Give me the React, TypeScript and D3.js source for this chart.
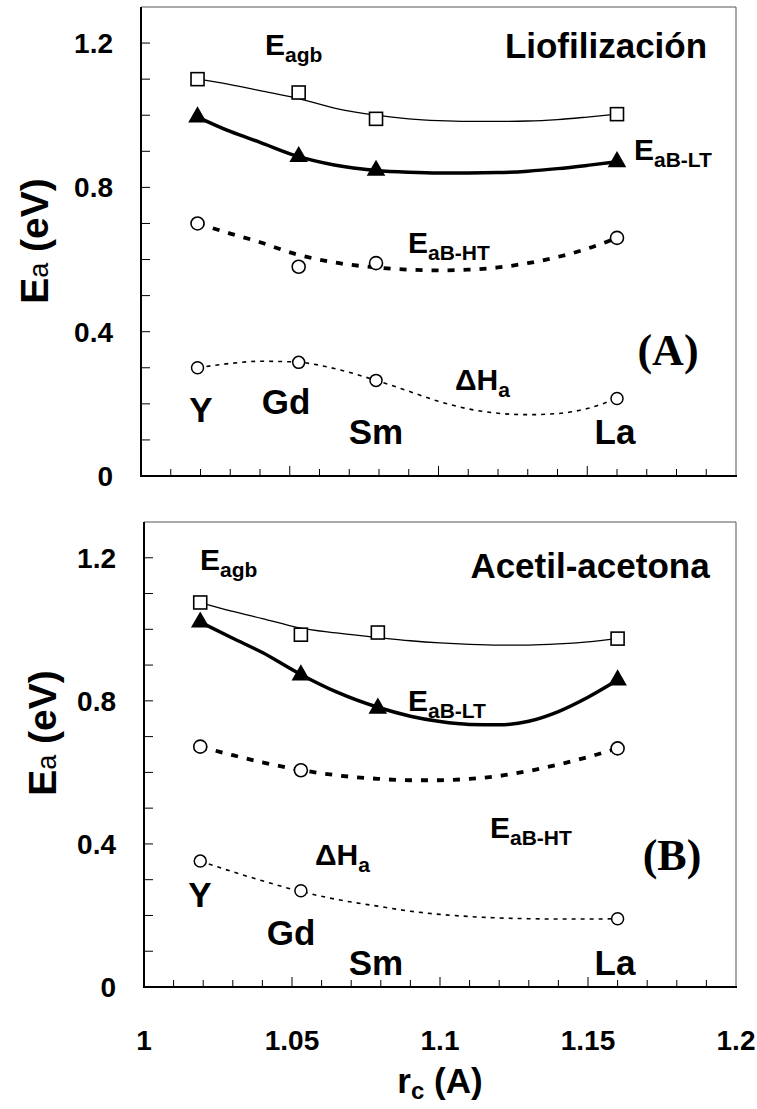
import { useEffect, useRef } from 'react';
import * as d3 from 'd3';

// ionic radius of each cation (A)
const radii = [1.019, 1.053, 1.079, 1.16];
const elements = ['Y', 'Gd', 'Sm', 'La'];

// (A) Liofilización
const aAgb = [1.1, 1.063, 0.99, 1.003];
const aLT = [0.995, 0.885, 0.847, 0.871];
const aHT = [0.7, 0.58, 0.59, 0.66];
const aDH = [0.3, 0.315, 0.265, 0.215];

// (B) Acetil-acetona (no Sm point for HT / dH)
const bAgb = [1.075, 0.985, 0.991, 0.974];
const bLT = [1.02, 0.872, 0.779, 0.858];
const bHT = [0.672, 0.606, null, 0.667];
const bDH = [0.352, 0.269, null, 0.191];

// trend curves
const fitX = [1.019, 1.03, 1.04, 1.052, 1.065, 1.079, 1.09, 1.1, 1.11, 1.12, 1.13, 1.14, 1.15, 1.16];
const aAgbFit = [1.1, 1.085, 1.068, 1.048, 1.02, 1.0, 0.99, 0.985, 0.983, 0.983, 0.984, 0.988, 0.995, 1.003];
const aLTFit = [0.995, 0.955, 0.925, 0.888, 0.862, 0.847, 0.842, 0.84, 0.84, 0.841, 0.845, 0.852, 0.861, 0.871];
const aHTFit = [0.7, 0.672, 0.648, 0.615, 0.592, 0.578, 0.572, 0.57, 0.572, 0.578, 0.59, 0.607, 0.63, 0.66];
const aDHFit = [0.3, 0.312, 0.318, 0.316, 0.298, 0.265, 0.235, 0.207, 0.186, 0.174, 0.17, 0.173, 0.187, 0.215];
const bAgbFit = [1.075, 1.05, 1.03, 1.005, 0.99, 0.977, 0.968, 0.962, 0.958, 0.956, 0.956, 0.959, 0.965, 0.974];
const bLTFit = [1.02, 0.975, 0.935, 0.878, 0.825, 0.782, 0.757, 0.742, 0.734, 0.733, 0.743, 0.77, 0.81, 0.858];
const bHTFit = [0.672, 0.648, 0.628, 0.608, 0.592, 0.582, 0.578, 0.578, 0.582, 0.59, 0.604, 0.622, 0.643, 0.667];
const bDHFit = [0.352, 0.322, 0.297, 0.269, 0.245, 0.226, 0.212, 0.203, 0.197, 0.193, 0.191, 0.19, 0.19, 0.191];

const yTicks = [0, 0.4, 0.8, 1.2];
const xTicks = [1, 1.05, 1.1, 1.15, 1.2];

const FONT = '"Liberation Sans", Arial, sans-serif';

type Label = { text: string; sub?: string; x: number; y: number; size: number; serif?: boolean; anchor?: string };

function drawPanel(svg: d3.Selection<SVGSVGElement, unknown, null, undefined>, p: {
  box: [number, number, number, number];
  agb: (number | null)[]; lt: (number | null)[]; ht: (number | null)[]; dh: (number | null)[];
  fits: number[][];
  labels: Label[];
  elemPos: [number, number][];
  ylab: [number, number];
  xlabels: boolean;
}) {
  const [x0, x1, y0, y1] = p.box;
  const x = d3.scaleLinear().domain([1, 1.2]).range([x0, x1]);
  const y = d3.scaleLinear().domain([0, 1.3]).range([y1, y0]);
  const g = svg.append('g');

  // frame: top/right grey, left/bottom black
  g.append('line').attr('x1', x0).attr('x2', x1).attr('y1', y0).attr('y2', y0).attr('stroke', '#555').attr('stroke-width', 1);
  g.append('line').attr('x1', x1).attr('x2', x1).attr('y1', y0).attr('y2', y1).attr('stroke', '#555').attr('stroke-width', 1);
  g.append('line').attr('x1', x0).attr('x2', x0).attr('y1', y0).attr('y2', y1 + 1).attr('stroke', '#000').attr('stroke-width', 2);
  g.append('line').attr('x1', x0 - 1).attr('x2', x1 + 1).attr('y1', y1).attr('y2', y1).attr('stroke', '#000').attr('stroke-width', 2);

  d3.range(0, 13).forEach(i => {
    const v = i / 10;
    g.append('line').attr('x1', x0).attr('x2', x0 + 9).attr('y1', y(v)).attr('y2', y(v)).attr('stroke', '#000').attr('stroke-width', 1);
  });
  d3.range(1, 20).forEach(i => {
    const v = 1 + i / 100;
    const major = i % 5 === 0;
    g.append('line').attr('x1', x(v)).attr('x2', x(v)).attr('y1', y1).attr('y2', y1 - (major ? 10 : 7)).attr('stroke', '#000').attr('stroke-width', 1);
  });

  yTicks.forEach(v => {
    g.append('text').attr('x', x0 - 28).attr('y', y(v) + 10).attr('text-anchor', 'end')
      .attr('font-family', FONT).attr('font-weight', 'bold').attr('font-size', 28).text(String(v));
  });
  if (p.xlabels) {
    xTicks.forEach(v => {
      g.append('text').attr('x', x(v)).attr('y', y1 + 63).attr('text-anchor', 'middle')
        .attr('font-family', FONT).attr('font-weight', 'bold').attr('font-size', 28).text(String(v));
    });
  }

  // y label
  const yl = g.append('text').attr('transform', `translate(${p.ylab[0]},${p.ylab[1]}) rotate(-90)`)
    .attr('text-anchor', 'middle').attr('font-family', FONT).attr('font-weight', 'bold').attr('font-size', 39);
  yl.append('tspan').text('E');
  yl.append('tspan').attr('font-size', 27).attr('font-weight', 'normal').text('a');
  yl.append('tspan').text(' (eV)');

  // trend curves
  const line = d3.line<number>().x((_, i) => x(fitX[i])).y(d => y(d)).curve(d3.curveMonotoneX);
  const styles = [
    { w: 1.3, dash: null },
    { w: 3.5, dash: null },
    { w: 3.8, dash: '7,9' },
    { w: 1.6, dash: '4,5' },
  ];
  p.fits.forEach((f, k) => {
    const path = g.append('path').attr('d', line(f)).attr('fill', 'none').attr('stroke', '#000').attr('stroke-width', styles[k].w);
    if (styles[k].dash) path.attr('stroke-dasharray', styles[k].dash);
  });

  // markers
  const pts = (vals: (number | null)[]) => vals.map((v, i) => ({ v, r: radii[i] })).filter(d => d.v != null) as { v: number; r: number }[];
  g.selectAll(null).data(pts(p.agb)).enter().append('rect')
    .attr('x', d => x(d.r) - 6.5).attr('y', d => y(d.v) - 6.5).attr('width', 13).attr('height', 13)
    .attr('fill', 'white').attr('stroke', '#000').attr('stroke-width', 1.6);
  const tri = d3.symbol().type(d3.symbolTriangle).size(150);
  g.selectAll(null).data(pts(p.lt)).enter().append('path')
    .attr('d', tri).attr('transform', d => `translate(${x(d.r)},${y(d.v)})`).attr('fill', '#000');
  g.selectAll(null).data(pts(p.ht)).enter().append('circle')
    .attr('cx', d => x(d.r)).attr('cy', d => y(d.v)).attr('r', 6.5).attr('fill', 'white').attr('stroke', '#000').attr('stroke-width', 1.6);
  g.selectAll(null).data(pts(p.dh)).enter().append('circle')
    .attr('cx', d => x(d.r)).attr('cy', d => y(d.v)).attr('r', 6).attr('fill', 'white').attr('stroke', '#000').attr('stroke-width', 1.5);

  // element labels
  elements.forEach((e, i) => {
    g.append('text').attr('x', p.elemPos[i][0]).attr('y', p.elemPos[i][1]).attr('text-anchor', 'middle')
      .attr('font-family', FONT).attr('font-weight', 'bold').attr('font-size', 35).text(e);
  });

  // annotations
  p.labels.forEach(l => {
    const t = g.append('text').attr('x', l.x).attr('y', l.y).attr('text-anchor', l.anchor || 'start')
      .attr('font-family', l.serif ? '"Liberation Serif", "Times New Roman", serif' : FONT)
      .attr('font-weight', 'bold').attr('font-size', l.size);
    t.append('tspan').text(l.text);
    if (l.sub) t.append('tspan').attr('dy', l.size * 0.22).attr('font-size', l.size * 0.7).text(l.sub);
  });
}

export default function App() {
  const ref = useRef<SVGSVGElement>(null);

  useEffect(() => {
    if (!ref.current) return;
    const svg = d3.select(ref.current);
    svg.selectAll('*').remove();

    drawPanel(svg, {
      box: [141, 736, 7, 476],
      agb: aAgb, lt: aLT, ht: aHT, dh: aDH,
      fits: [aAgbFit, aLTFit, aHTFit, aDHFit],
      elemPos: [[201, 422], [286, 414], [376, 444], [615, 444]],
      ylab: [48, 241],
      xlabels: false,
      labels: [
        { text: 'E', sub: 'agb', x: 265, y: 55, size: 30 },
        { text: 'Liofilización', x: 606, y: 58, size: 35, anchor: 'middle' },
        { text: 'E', sub: 'aB-LT', x: 634, y: 160, size: 30 },
        { text: 'E', sub: 'aB-HT', x: 408, y: 253, size: 30 },
        { text: '(A)', x: 668, y: 365, size: 44, serif: true, anchor: 'middle' },
        { text: 'ΔH', sub: 'a', x: 455, y: 390, size: 30 },
      ],
    });

    drawPanel(svg, {
      box: [144, 736, 522, 987],
      agb: bAgb, lt: bLT, ht: bHT, dh: bDH,
      fits: [bAgbFit, bLTFit, bHTFit, bDHFit],
      elemPos: [[200, 907], [291, 945], [376, 975], [615, 975]],
      ylab: [56, 733],
      xlabels: true,
      labels: [
        { text: 'E', sub: 'agb', x: 200, y: 570, size: 30 },
        { text: 'Acetil-acetona', x: 590, y: 578, size: 35, anchor: 'middle' },
        { text: 'E', sub: 'aB-LT', x: 408, y: 711, size: 30 },
        { text: 'E', sub: 'aB-HT', x: 490, y: 838, size: 30 },
        { text: '(B)', x: 672, y: 870, size: 44, serif: true, anchor: 'middle' },
        { text: 'ΔH', sub: 'a', x: 315, y: 865, size: 30 },
      ],
    });

    // x axis title
    const xt = svg.append('text').attr('x', 440).attr('y', 1093).attr('text-anchor', 'middle')
      .attr('font-family', FONT).attr('font-weight', 'bold').attr('font-size', 35);
    xt.append('tspan').text('r');
    xt.append('tspan').attr('dy', 6).attr('font-size', 24).text('c');
    xt.append('tspan').attr('dy', -6).text(' (A)');
  }, []);

  return (
    <svg ref={ref} width={757} height={1109}
      style={{ position: 'absolute', left: 0, top: 0, background: 'white' }} />
  );
}
